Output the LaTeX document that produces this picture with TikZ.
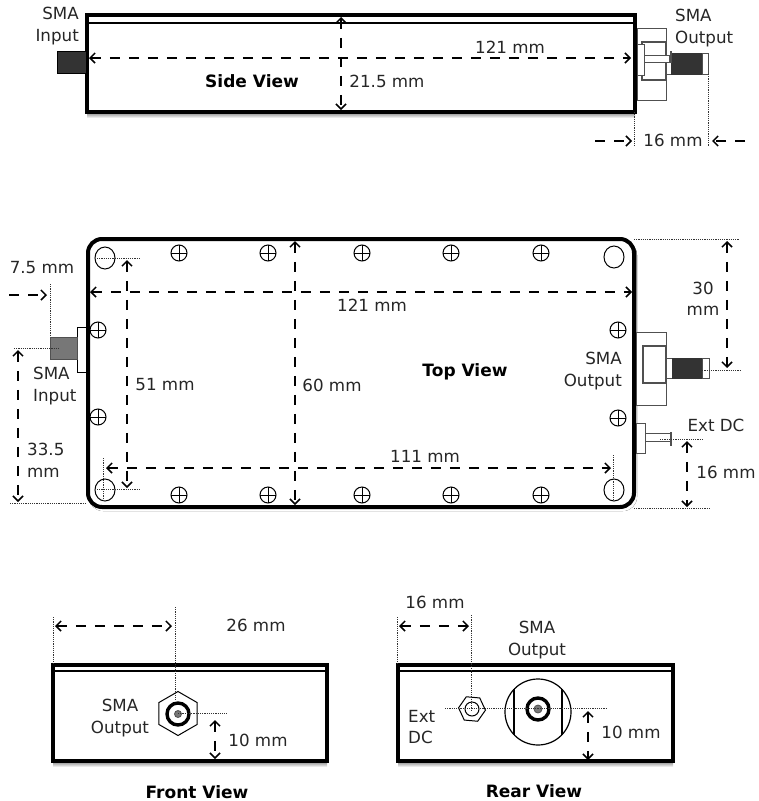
\documentclass[tikz,border=0pt]{standalone}
\usepackage{fontspec}
\setmainfont{DejaVu Sans}
\usetikzlibrary{arrows.meta,shapes.geometric}
\definecolor{thread}{RGB}{51, 51, 51}
\definecolor{plug}{RGB}{119, 119, 119}
\definecolor{edgegray}{RGB}{80, 80, 80}
\definecolor{shade}{RGB}{215, 215, 215}
\tikzset{
    lbl/.style={font=\fontsize{16.7}{21.5}\selectfont, inner sep=0pt, text=black!85},
    boldlbl/.style={font=\fontsize{17}{20}\selectfont\bfseries, inner sep=0pt},
    dim/.style={line width=2pt, dash pattern=on 10pt off 9pt, >={Straight Barb[length=5pt,width=10pt,line width=1.5pt]}},
    guide/.style={line width=0.8pt, dash pattern=on 1.2pt off 1pt, black!80},
    body/.style={line width=4pt, draw=black},
    part/.style={line width=1pt, draw=edgegray, fill=white}
}
\begin{document}
\begin{tikzpicture}[x=1pt,y=-1pt]
    \useasboundingbox (0,0) rectangle (759,801);
    % side view
    \fill[shade]                (87, 112) rectangle (635, 118);
    \draw[body, fill=white]     (87,  15) rectangle (635, 112);
    \draw[line width=1.6pt]     (87,  23) -- (635, 23);
    \filldraw[part, fill=thread, draw=black] (57, 51) rectangle (86, 73);
    \draw[part]                 (637, 28) rectangle (666, 100.5);
    \draw[part, line width=1.2pt] (642, 42) rectangle (666, 80);
    \draw[part]                 (637, 44) rectangle (644, 75);
    \draw[part]                 (644, 55) rectangle (669, 62);
    \draw[part]                 (666, 74) -- (671, 74);
    \filldraw[part, fill=thread, draw=thread] (671, 53) rectangle (702, 74);
    \draw[part]                 (702, 53) rectangle (708, 74);
    \draw[edgegray, line width=2pt] (671, 51) -- (671, 63);
    \draw[guide]                (634, 112) -- (634, 146);
    \draw[guide]                (708, 74) -- (708, 146);
    \draw[dim, <->]             (89, 58) -- (631, 58);
    \draw[dim, <->]             (341, 17) -- (341, 110);
    \draw[dim, ->]              (595, 141) -- (632, 141);
    \draw[dim, ->]              (745, 141) -- (712, 141);
    \node[lbl, align=right, anchor=north east] (sideinput) at (79, 7) {SMA\\Input};
    \node[lbl, align=left, anchor=north west]  (sideoutput) at (675, 9) {SMA\\Output};
    \node[lbl]     (sidelength) at (510, 47) {121 mm};
    \node[lbl]     (sideheight) at (387, 81) {21.5 mm};
    \node[lbl]     (sidestub)   at (673, 140) {16 mm};
    \node[boldlbl] (sideview)   at (252, 81) {Side View};

    % top view
    \fill[shade, rounded corners=14pt] (89, 241) rectangle (637, 511);
    \draw[body, fill=white, rounded corners=14pt] (88, 239) rectangle (634, 507);
    \foreach \x/\y in {105/258, 614/257, 105/490, 614/490}{
        \draw[line width=1pt] (\x, \y) ellipse (10 and 11);
    }
    \foreach \x/\y in {179/253, 268/253, 362/253, 451/253, 541/253,
                       179/495, 268/495, 362/495, 451/495, 541/495,
                       98/330, 98/417, 618/330, 618/418}{
        \draw[line width=1pt] (\x, \y) circle (8);
        \draw[line width=1pt] (\x-8, \y) -- (\x+8, \y) (\x, \y-8) -- (\x, \y+8);
    }
    \draw[part, draw=black]     (77, 327) rectangle (86, 372);
    \filldraw[part, fill=plug]  (50, 337) rectangle (77, 359);
    \draw[part]                 (636, 332) rectangle (666, 405);
    \draw[part, line width=1.2pt] (643, 346) rectangle (666, 383);
    \draw[part]                 (666, 358) rectangle (672, 378);
    \filldraw[part, fill=thread, draw=thread] (672, 358) rectangle (702, 378);
    \draw[part]                 (702, 358) rectangle (709, 378);
    \draw[part]                 (636, 423) rectangle (645, 453);
    \draw[part]                 (645, 433) rectangle (670, 441);
    \draw[edgegray, line width=2pt] (671, 432) -- (671, 446);
    \draw[guide]                (50, 284) -- (50, 335);
    \draw[guide]                (14, 348) -- (60, 348);
    \draw[guide]                (10, 503) -- (87, 503);
    \draw[guide]                (97, 258) -- (140, 258);
    \draw[guide]                (97, 489) -- (140, 489);
    \draw[guide]                (103, 458) -- (103, 500);
    \draw[guide]                (613, 455) -- (613, 500);
    \draw[guide]                (634, 239) -- (739, 239);
    \draw[guide]                (700, 370) -- (740, 370);
    \draw[guide]                (660, 439) -- (703, 439);
    \draw[guide]                (634, 508) -- (709, 508);
    \draw[dim, ->]              (9, 295) -- (47, 295);
    \draw[dim, <->]             (90, 292) -- (632, 292);
    \draw[dim, <->]             (127, 260) -- (127, 488);
    \draw[dim, <->]             (106, 468) -- (611, 468);
    \draw[dim, <->]             (295, 241) -- (295, 505);
    \draw[dim, <->]             (18, 350) -- (18, 502);
    \draw[dim, <->]             (727, 241) -- (727, 368);
    \draw[dim, <->]             (687, 441) -- (687, 507);
    \node[lbl]     (topinset)  at (42, 268) {7.5 mm};
    \node[lbl]     (toplength) at (372, 305) {121 mm};
    \node[lbl]     (topholes)  at (165, 385) {51 mm};
    \node[lbl]     (topwidth)  at (332, 385) {60 mm};
    \node[lbl]     (tophspan)  at (425, 456) {111 mm};
    \node[boldlbl] (topview)   at (465, 372) {Top View};
    \node[lbl, align=left, anchor=north west]  (topinput)  at (33, 367) {SMA\\Input};
    \node[lbl, align=left, anchor=north west]  (topleft)   at (27, 443) {33.5\\mm};
    \node[lbl, align=center]                   (topright)  at (703, 299) {30\\mm};
    \node[lbl, align=right, anchor=north east] (topoutput) at (622, 352) {SMA\\Output};
    \node[lbl]     (topdc)     at (716, 425) {Ext DC};
    \node[lbl]     (topdcpos)  at (726, 472) {16 mm};

    % front view
    \fill[shade]                (53, 761) rectangle (327, 767);
    \draw[body, fill=white]     (53, 665) rectangle (327, 761);
    \draw[line width=1.6pt]     (53, 671) -- (327, 671);
    \node[draw, line width=1pt, regular polygon, regular polygon sides=6, minimum size=44pt,
          inner sep=0pt, shape border rotate=30] (fronthex) at (178, 713.5) {};
    \draw[line width=3.4pt]     (178, 714) circle (11);
    \filldraw[plug, draw=edgegray, line width=0.8pt] (178, 714) circle (3.5);
    \draw[guide]                (53, 617) -- (53, 664);
    \draw[guide]                (175, 607) -- (175, 700);
    \draw[guide]                (178, 713) -- (227, 713);
    \draw[dim, <->]             (215, 720) -- (215, 759);
    \draw[dim, <->]             (55, 626) -- (172, 626);
    \node[lbl]     (frontpos)    at (256, 625) {26 mm};
    \node[lbl]     (frontheight) at (258, 740) {10 mm};
    \node[lbl, align=center] (frontoutput) at (120, 718) {SMA\\Output};
    \node[boldlbl] (frontview)   at (197, 792) {Front View};

    % rear view
    \fill[shade]                (398, 761) rectangle (673, 767);
    \draw[body, fill=white]     (398, 665) rectangle (673, 761);
    \draw[line width=1.6pt]     (398, 671) -- (673, 671);
    \draw[line width=1.2pt]     (538, 712) circle (33);
    \draw[line width=1.2pt]     (514, 689.3) -- (514, 734.7) (562, 689.3) -- (562, 734.7);
    \draw[line width=3.4pt]     (538, 709) circle (11);
    \filldraw[plug, draw=edgegray, line width=0.8pt] (538, 709) circle (4);
    \node[draw, line width=1pt, regular polygon, regular polygon sides=6, minimum size=27pt,
          inner sep=0pt, rotate=-5] (rearhex) at (472, 709) {};
    \draw[line width=1pt]       (472, 709) circle (7);
    \draw[guide]                (397, 617) -- (397, 664);
    \draw[guide]                (471, 615) -- (471, 710);
    \draw[guide]                (445, 708) -- (606, 708);
    \draw[dim, <->]             (399, 626) -- (469, 626);
    \draw[dim, <->]             (588, 711) -- (588, 760);
    \node[lbl]     (rearpos)    at (435, 602) {16 mm};
    \node[lbl, align=center] (rearoutput) at (537, 640) {SMA\\Output};
    \node[lbl, align=left, anchor=north west] (reardc) at (408, 710) {Ext\\DC};
    \node[lbl]     (rearheight) at (631, 732) {10 mm};
    \node[boldlbl] (rearview)   at (534, 791) {Rear View};
\end{tikzpicture}
\end{document}
